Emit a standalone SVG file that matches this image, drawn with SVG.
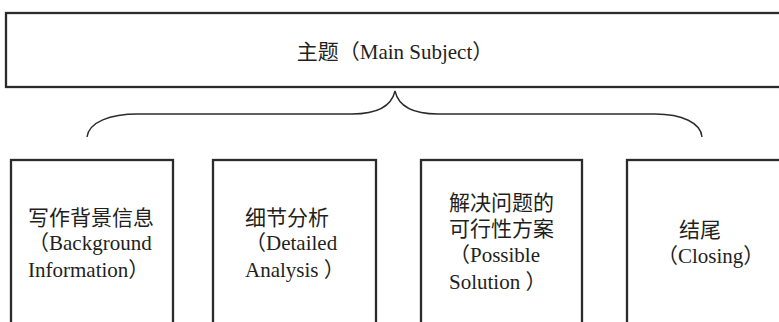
<svg xmlns="http://www.w3.org/2000/svg" width="779" height="322" viewBox="0 0 779 322">
<style>
.box{fill:#fff;stroke:#2b2b2b;stroke-width:2.3}
.t{font-family:'Liberation Serif',serif;font-size:21px;fill:#231f20}
.c{font-family:'Noto Sans CJK SC',sans-serif}
.brace{fill:none;stroke:#2b2b2b;stroke-width:1.4}
</style>
<rect width="779" height="322" fill="#fff"/>
<g id="main">
<rect class="box" x="6" y="13" width="790" height="74"/>
<text class="t" x="395" y="59" text-anchor="middle"><tspan class="c">主题（</tspan>Main Subject<tspan class="c">）</tspan></text>
</g>
<g id="connectors">
<path class="brace" d="M87,137 C89,122 110,114 138,114 L352,114 C380,114 392,104 395,91 C398,104 410,114 438,114 L655,114 C682,114 701,123 702,137"/>
</g>
<g id="background">
<rect class="box" x="11" y="160" width="162" height="175"/>
<text class="t c" x="28" y="225">写作背景信息</text>
<text class="t" x="28" y="250"><tspan class="c">（</tspan>Background</text>
<text class="t" x="28" y="277">Information<tspan class="c">）</tspan></text>
</g>
<g id="analysis">
<rect class="box" x="213" y="160" width="163" height="175"/>
<text class="t c" x="245" y="225">细节分析</text>
<text class="t" x="245" y="250"><tspan class="c">（</tspan>Detailed</text>
<text class="t" x="245" y="277">Analysis <tspan class="c">）</tspan></text>
</g>
<g id="solution">
<rect class="box" x="421" y="160" width="161" height="175"/>
<text class="t c" x="449" y="210">解决问题的</text>
<text class="t c" x="449" y="236">可行性方案</text>
<text class="t" x="449" y="262"><tspan class="c">（</tspan>Possible</text>
<text class="t" x="449" y="289">Solution <tspan class="c">）</tspan></text>
</g>
<g id="closing">
<rect class="box" x="627" y="160" width="170" height="175"/>
<text class="t c" x="679" y="237">结尾</text>
<text class="t" x="657" y="263"><tspan class="c">（</tspan>Closing<tspan class="c">）</tspan></text>
</g>
</svg>
